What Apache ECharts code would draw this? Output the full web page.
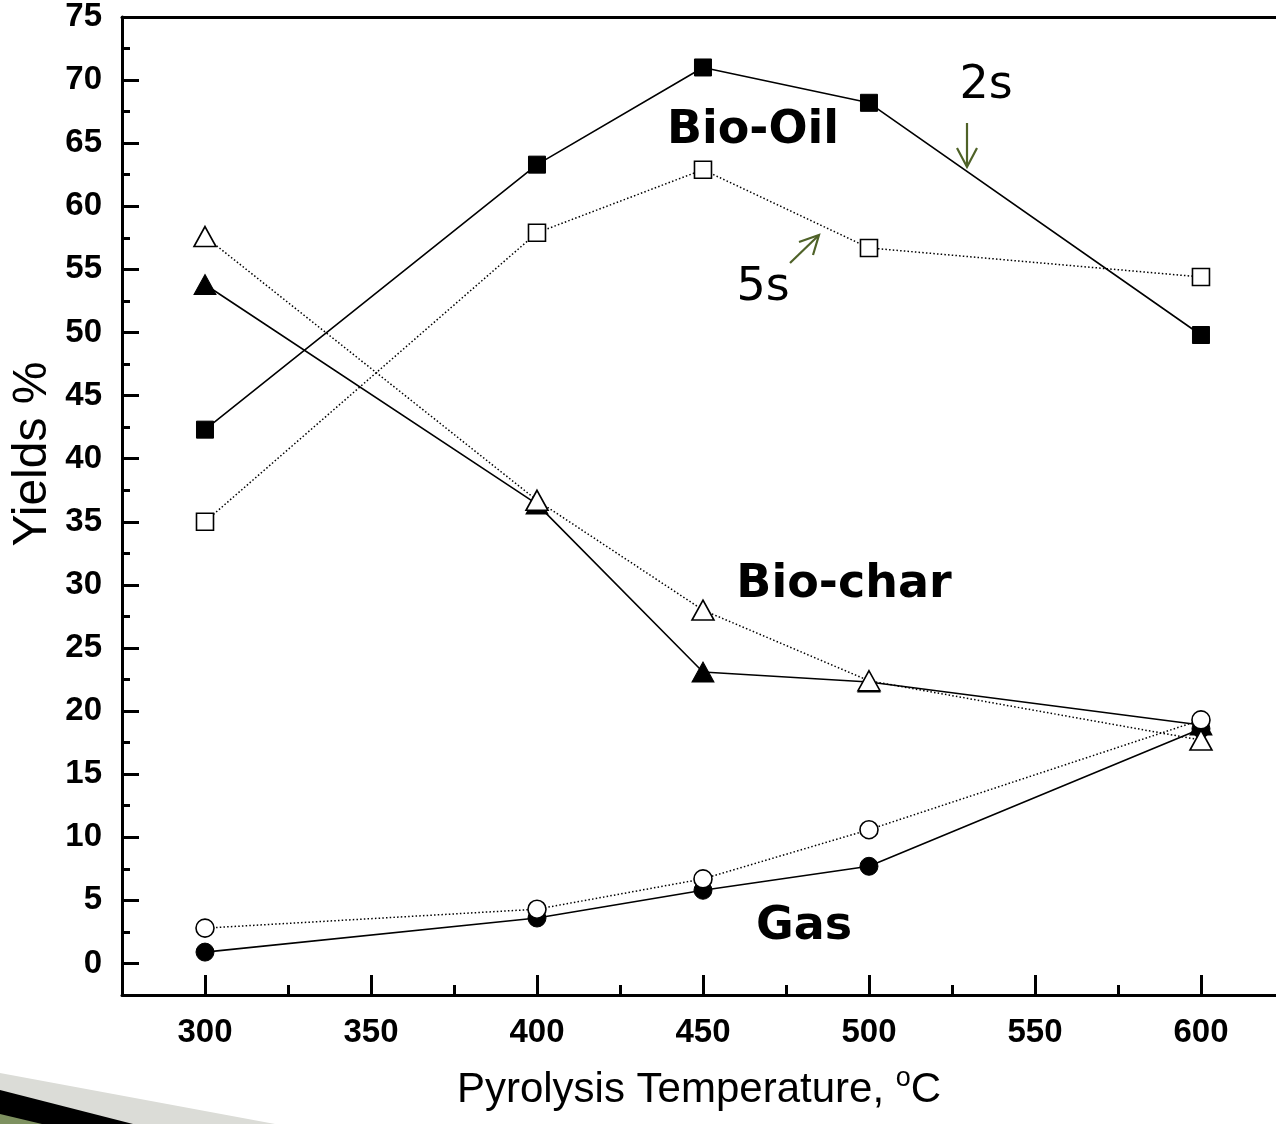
<!DOCTYPE html>
<html>
<head>
<meta charset="utf-8">
<script src="https://cdn.jsdelivr.net/npm/echarts@6/dist/echarts.min.js"></script>
<style>
html,body{margin:0;padding:0;background:#fff;}
#c{width:1276px;height:1124px;}
</style>
</head>
<body>
<div id="c"></div>
<script>
// ---- data ----
var temps = [300, 400, 450, 500, 600];
var oil2s = [42.3, 63.3, 71.0, 68.2, 49.8];
var oil5s = [35.0, 57.9, 62.9, 56.7, 54.4];
var char2s = [53.8, 36.4, 23.1, 22.3, 18.9];
var char5s = [57.6, 36.7, 28.0, 22.4, 17.7];
var gas2s = [0.9, 3.6, 5.8, 7.7, 18.6];
var gas5s = [2.8, 4.3, 6.7, 10.6, 19.3];
var xMajorTicks = [300, 350, 400, 450, 500, 550, 600];
var xMinorTicks = [325, 375, 425, 475, 525, 575];
var yMajorTicks = [0, 5, 10, 15, 20, 25, 30, 35, 40, 45, 50, 55, 60, 65, 70, 75];
var yMinorTicks = [2.5, 7.5, 12.5, 17.5, 22.5, 27.5, 32.5, 37.5, 42.5, 47.5, 52.5, 57.5, 62.5, 67.5, 72.5];

function pairs(ys) { return temps.map(function (t, i) { return [t, ys[i]]; }); }

var chart = echarts.init(document.getElementById('c'));
var tickFont = { fontFamily: 'Liberation Sans', fontWeight: 'bold', fontSize: 33, color: '#000' };
var XMIN = 275, XMAX = 622.6, YMIN = -2.5, YMAX = 75;

function solid(name, ys, symbol, size) {
  return {
    name: name, type: 'line', data: pairs(ys), symbol: symbol, symbolSize: size,
    lineStyle: { color: '#000', width: 1.6, type: 'solid' },
    itemStyle: { color: '#000', borderColor: '#000', borderWidth: 1 },
    emphasis: { disabled: true }, z: 3
  };
}
function dotted(name, ys, symbol, size) {
  return {
    name: name, type: 'line', data: pairs(ys), symbol: symbol, symbolSize: size,
    lineStyle: { color: '#000', width: 1.5, type: [1.5, 2.2], cap: 'butt' },
    itemStyle: { color: '#fff', borderColor: '#000', borderWidth: 1.6 },
    emphasis: { disabled: true }, z: 4
  };
}

var green = '#4F6228';

chart.setOption({
  animation: false,
  backgroundColor: '#fff',
  grid: { left: 122, top: 17, width: 1154, height: 978, containLabel: false },
  xAxis: [
    {
      type: 'value', min: XMIN, max: XMAX, position: 'bottom',
      axisLine: { show: true, onZero: false, lineStyle: { color: '#000', width: 3 } },
      axisTick: { show: true, inside: true, length: 20, customValues: xMajorTicks, lineStyle: { color: '#000', width: 3 } },
      axisLabel: Object.assign({ customValues: xMajorTicks, margin: 21 }, tickFont),
      splitLine: { show: false },
      name: 'Pyrolysis Temperature, {sup|o}C', nameLocation: 'middle', nameGap: 70,
      nameTextStyle: {
        fontFamily: 'Liberation Sans', fontSize: 42, color: '#000',
        rich: { sup: { fontFamily: 'Liberation Sans', fontSize: 27, color: '#000', padding: [0, 0, 24, 0] } }
      }
    },
    {
      type: 'value', min: XMIN, max: XMAX, position: 'bottom',
      axisLine: { show: false, onZero: false },
      axisTick: { show: true, inside: true, length: 10, customValues: xMinorTicks, lineStyle: { color: '#000', width: 3 } },
      axisLabel: { show: false }, splitLine: { show: false }
    },
    {
      type: 'value', min: XMIN, max: XMAX, position: 'top',
      axisLine: { show: true, onZero: false, lineStyle: { color: '#000', width: 3 } },
      axisTick: { show: false }, axisLabel: { show: false }, splitLine: { show: false }
    }
  ],
  yAxis: [
    {
      type: 'value', min: YMIN, max: YMAX, position: 'left',
      axisLine: { show: true, onZero: false, lineStyle: { color: '#000', width: 3 } },
      axisTick: { show: true, inside: true, length: 17, customValues: yMajorTicks, lineStyle: { color: '#000', width: 3 } },
      axisLabel: Object.assign({ customValues: yMajorTicks, margin: 20 }, tickFont),
      splitLine: { show: false }
    },
    {
      type: 'value', min: YMIN, max: YMAX, position: 'left',
      axisLine: { show: false, onZero: false },
      axisTick: { show: true, inside: true, length: 8, customValues: yMinorTicks, lineStyle: { color: '#000', width: 3 } },
      axisLabel: { show: false }, splitLine: { show: false }
    }
  ],
  series: [
    solid('Bio-Oil 2s', oil2s, 'rect', 17),
    solid('Bio-char 2s', char2s, 'triangle', [22, 20]),
    solid('Gas 2s', gas2s, 'circle', 18),
    dotted('Bio-Oil 5s', oil5s, 'rect', 17),
    dotted('Bio-char 5s', char5s, 'triangle', [22, 20]),
    dotted('Gas 5s', gas5s, 'circle', 18)
  ],
  graphic: [
    // slide decoration bottom-left
    { type: 'polygon', shape: { points: [[0, 1073], [275, 1124], [0, 1124]] }, style: { fill: '#DBDCD7' }, z: 0 },
    { type: 'polygon', shape: { points: [[0, 1090], [133, 1124], [0, 1124]] }, style: { fill: '#000' }, z: 0 },
    { type: 'polygon', shape: { points: [[0, 1114], [42, 1124], [0, 1124]] }, style: { fill: '#7E9160' }, z: 0 },
    // y axis title
    { type: 'text', x: 33, y: 454, rotation: Math.PI / 2,
      style: { text: 'Yields %', fontFamily: 'Liberation Sans', fontSize: 48, fill: '#000', align: 'center', verticalAlign: 'middle' } },
    // annotations
    { type: 'text', x: 753, y: 131, style: { text: 'Bio-Oil', fontFamily: 'DejaVu Sans', fontWeight: 'bold', fontSize: 46, fill: '#000', align: 'center', verticalAlign: 'middle' } },
    { type: 'text', x: 844, y: 585, style: { text: 'Bio-char', fontFamily: 'DejaVu Sans', fontWeight: 'bold', fontSize: 46, fill: '#000', align: 'center', verticalAlign: 'middle' } },
    { type: 'text', x: 804, y: 927, style: { text: 'Gas', fontFamily: 'DejaVu Sans', fontWeight: 'bold', fontSize: 46, fill: '#000', align: 'center', verticalAlign: 'middle' } },
    { type: 'text', x: 986, y: 86, style: { text: '2s', fontFamily: 'DejaVu Sans', fontSize: 46, fill: '#000', align: 'center', verticalAlign: 'middle' } },
    { type: 'text', x: 763, y: 288, style: { text: '5s', fontFamily: 'DejaVu Sans', fontSize: 46, fill: '#000', align: 'center', verticalAlign: 'middle' } },
    // arrows
    { type: 'line', shape: { x1: 967, y1: 123, x2: 967, y2: 166 }, style: { stroke: green, lineWidth: 2.2 } },
    { type: 'polyline', shape: { points: [[957, 148], [967, 167], [977, 148]] }, style: { stroke: green, lineWidth: 2.2, fill: null } },
    { type: 'line', shape: { x1: 790, y1: 263, x2: 818, y2: 236 }, style: { stroke: green, lineWidth: 2.2 } },
    { type: 'polyline', shape: { points: [[799, 242], [819, 235], [813, 255]] }, style: { stroke: green, lineWidth: 2.2, fill: null } }
  ]
});
</script>
</body>
</html>
